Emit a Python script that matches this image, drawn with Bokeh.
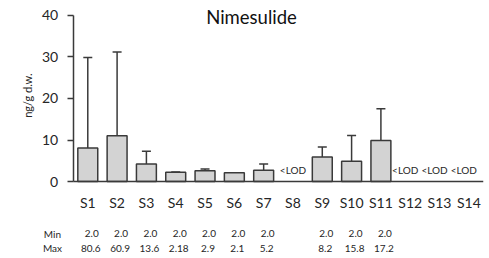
import math
from bokeh.plotting import figure
from bokeh.models import ColumnDataSource, FactorRange, Range1d, Whisker, TeeHead, Label
from bokeh.embed import file_html
from bokeh.resources import INLINE
from bokeh.core.properties import value

# ---- data ----
sites = ["S1", "S2", "S3", "S4", "S5", "S6", "S7", "S8", "S9", "S10", "S11", "S12", "S13", "S14"]
means = [8.1, 11.0, 4.2, 2.2, 2.6, 2.1, 2.7, None, 5.9, 4.9, 9.9, None, None, None]
err_upper = [29.9, 31.2, 7.3, 2.3, 3.0, None, 4.2, None, 8.3, 11.1, 17.5, None, None, None]
min_vals = ["2.0", "2.0", "2.0", "2.0", "2.0", "2.0", "2.0", "", "2.0", "2.0", "2.0", "", "", ""]
max_vals = ["80.6", "60.9", "13.6", "2.18", "2.9", "2.1", "5.2", "", "8.2", "15.8", "17.2", "", "", ""]
row_heads = ["Min", "Max"]
y_ticks = [0, 10, 20, 30, 40]
title_text = "Nimesulide"
y_label = "ng/g d.w."
lod_text = "<LOD"

FONT = "Lato"
TXT = "#262626"
LINE = "#3a3a3a"
PAD = ["  ", " "]  # two leading columns: y-axis label, table row headers

bar_x = [s for s, m in zip(sites, means) if m is not None]
bar_y = [m for m in means if m is not None]
bars = ColumnDataSource(dict(x=bar_x, top=bar_y))

wx = [s for s, m, e in zip(sites, means, err_upper) if m is not None and e is not None]
wl = [m for m, e in zip(means, err_upper) if m is not None and e is not None]
wu = [e for m, e in zip(means, err_upper) if m is not None and e is not None]
whisk = ColumnDataSource(dict(base=wx, lower=wl, upper=wu))

lod_sites = [s for s, m in zip(sites, means) if m is None]
lod_off = [0 if s == "S8" else -5 for s in lod_sites]
lod_src = ColumnDataSource(dict(x=lod_sites, y=[2.7] * len(lod_sites),
                                t=[lod_text] * len(lod_sites), off=lod_off))

Y_CAT, Y_MIN, Y_MAX = -5.0, -12.6, -16.1

p = figure(width=488, height=257, x_range=FactorRange(*PAD, *sites, range_padding=0),
           y_range=Range1d(-17.83, 42.89), output_backend="svg", toolbar_location=None,
           min_border_left=14, min_border_right=5, min_border_top=3, min_border_bottom=2)
p.outline_line_color = None
p.xgrid.grid_line_color = None
p.ygrid.grid_line_color = None

p.vbar(x="x", top="top", width=0.68, source=bars, fill_color="#d3d3d3",
       line_color=LINE, line_width=1.5)

p.add_layout(Whisker(base="base", lower="lower", upper="upper", source=whisk,
                     line_color=LINE, line_width=1.5,
                     upper_head=TeeHead(size=9, line_color=LINE, line_width=1.5),
                     lower_head=None))

p.text(x="x", y="y", text="t", x_offset="off", source=lod_src, text_font=value(FONT),
       text_font_size="10px", text_align="center", text_baseline="middle", text_color=TXT)

# y axis, pinned to the left edge of S1
p.yaxis.fixed_location = float(len(PAD))
p.yaxis.bounds = (0, 40)
p.yaxis.ticker = y_ticks
p.yaxis.axis_line_width = 1.5
p.yaxis.axis_line_color = LINE
p.yaxis.major_tick_line_color = LINE
p.yaxis.major_tick_line_width = 1.5
p.yaxis.major_tick_out = 6
p.yaxis.major_tick_in = 0
p.yaxis.minor_tick_line_color = None
p.yaxis.major_label_text_font = FONT
p.yaxis.major_label_text_font_size = "14px"
p.yaxis.major_label_text_color = TXT
p.yaxis.major_label_standoff = 9

# y axis title
ylab_src = ColumnDataSource(dict(x=[PAD[0]], y=[20.7], t=[y_label]))
p.text(x="x", y="y", text="t", source=ylab_src, x_offset=-2, angle=math.pi / 2,
       text_font=value(FONT), text_font_size="11px", text_align="center",
       text_baseline="middle", text_color=TXT)

# x axis pinned at y = 0
p.xaxis.fixed_location = 0
p.xaxis.bounds = (len(PAD), len(PAD) + len(sites))
p.xaxis.axis_line_width = 1.5
p.xaxis.axis_line_color = LINE
p.xaxis.major_tick_line_color = None
p.xaxis.minor_tick_line_color = None
p.xaxis.major_label_text_color = None

# category labels
cat_src = ColumnDataSource(dict(x=sites, y=[Y_CAT] * len(sites), t=sites))
p.text(x="x", y="y", text="t", source=cat_src, text_font=value(FONT), text_font_size="14px",
       text_align="center", text_baseline="middle", text_color=TXT)

# title
p.add_layout(Label(x=237, y=239, x_units="screen", y_units="screen", text=title_text,
                   text_font=FONT, text_font_size="18.5px", text_color="#111111",
                   text_align="center", text_baseline="middle"))

# Min / Max table
head_src = ColumnDataSource(dict(x=[PAD[1], PAD[1]], y=[Y_MIN, Y_MAX], t=row_heads))
p.text(x="x", y="y", text="t", source=head_src, x_offset=-6, text_font=value(FONT),
       text_font_size="10px", text_align="center", text_baseline="middle", text_color=TXT)
min_src = ColumnDataSource(dict(x=sites, y=[Y_MIN] * len(sites), t=min_vals))
max_src = ColumnDataSource(dict(x=sites, y=[Y_MAX] * len(sites), t=max_vals))
p.text(x="x", y="y", text="t", source=min_src, x_offset=4, text_font=value(FONT),
       text_font_size="10px", text_align="center", text_baseline="middle", text_color=TXT)
p.text(x="x", y="y", text="t", source=max_src, x_offset=3, text_font=value(FONT),
       text_font_size="10px", text_align="center", text_baseline="middle", text_color=TXT)

open("out.html", "w").write(file_html(p, INLINE))
